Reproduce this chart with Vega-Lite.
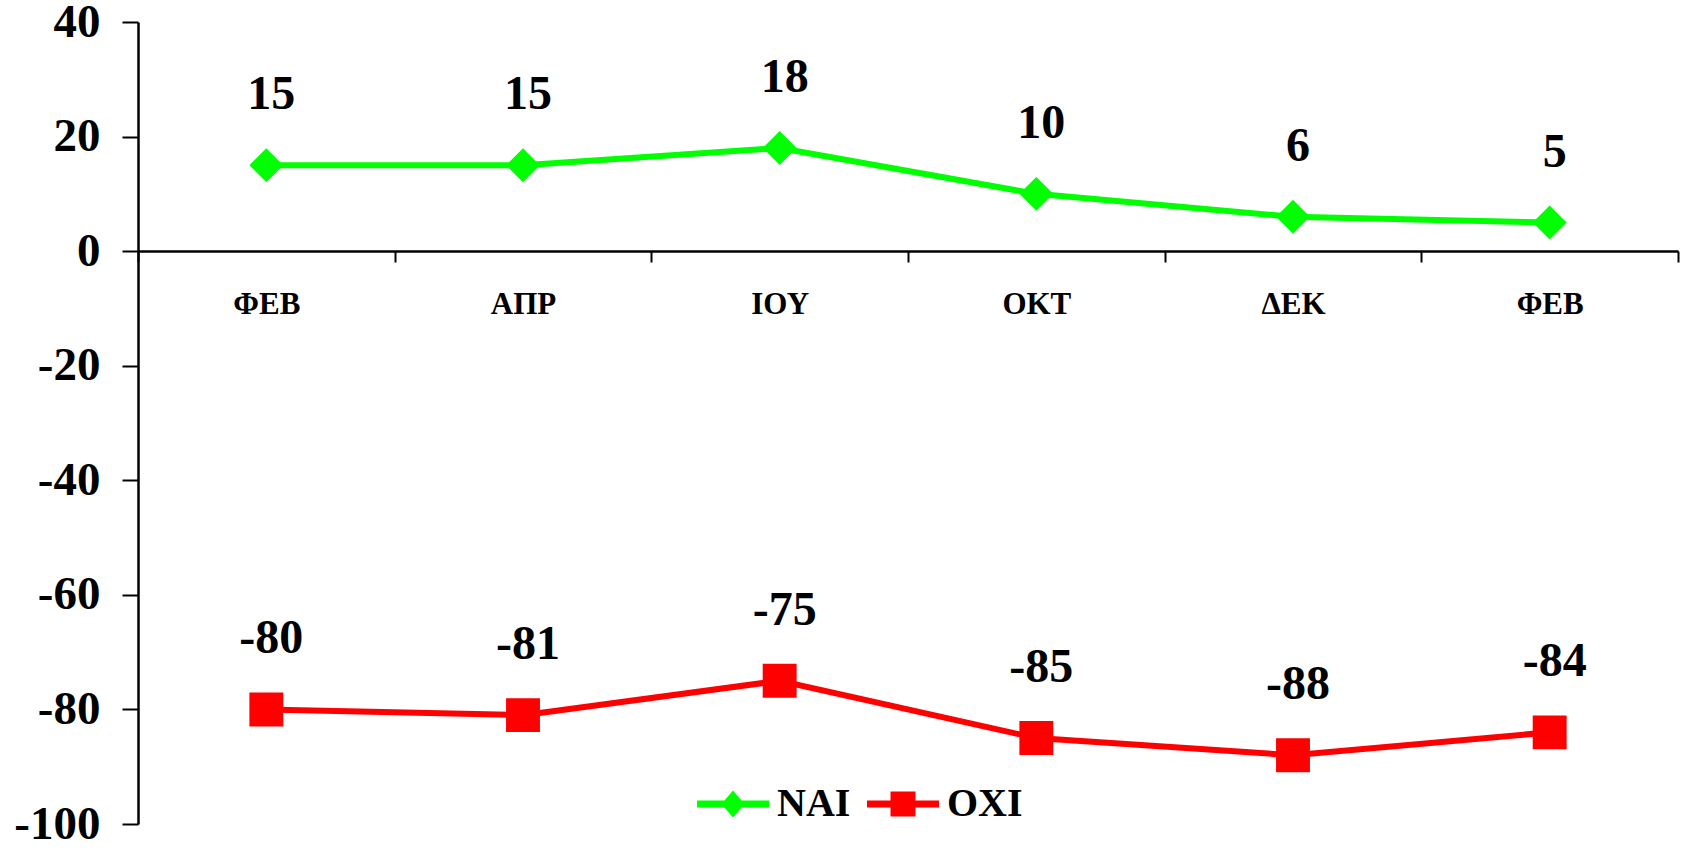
{
  "$schema": "https://vega.github.io/schema/vega-lite/v6.json",
  "width": 1540,
  "height": 802,
  "autosize": {"type": "none"},
  "padding": {"left": 138, "top": 22, "right": 12, "bottom": 26},
  "background": "white",
  "config": {"view": {"stroke": null}, "font": "Liberation Serif"},
  "data": {
    "values": [
      {"period": "ΦΕΒ_1", "series": "ΝΑΙ", "value": 15},
      {"period": "ΑΠΡ", "series": "ΝΑΙ", "value": 15},
      {"period": "ΙΟΥ", "series": "ΝΑΙ", "value": 18},
      {"period": "ΟΚΤ", "series": "ΝΑΙ", "value": 10},
      {"period": "ΔΕΚ", "series": "ΝΑΙ", "value": 6},
      {"period": "ΦΕΒ_2", "series": "ΝΑΙ", "value": 5},
      {"period": "ΦΕΒ_1", "series": "ΟΧΙ", "value": -80},
      {"period": "ΑΠΡ", "series": "ΟΧΙ", "value": -81},
      {"period": "ΙΟΥ", "series": "ΟΧΙ", "value": -75},
      {"period": "ΟΚΤ", "series": "ΟΧΙ", "value": -85},
      {"period": "ΔΕΚ", "series": "ΟΧΙ", "value": -88},
      {"period": "ΦΕΒ_2", "series": "ΟΧΙ", "value": -84}
    ]
  },
  "encoding": {
    "x": {
      "field": "period",
      "type": "nominal",
      "sort": ["ΦΕΒ_1", "ΑΠΡ", "ΙΟΥ", "ΟΚΤ", "ΔΕΚ", "ΦΕΒ_2"],
      "scale": {"type": "band", "paddingInner": 0, "paddingOuter": 0},
      "axis": {
        "title": null,
        "offset": -573,
        "labelExpr": "split(datum.label, '_')[0]",
        "labelAngle": 0,
        "labelFont": "Liberation Serif",
        "labelFontSize": 31,
        "labelFontWeight": "bold",
        "labelColor": "black",
        "labelPadding": 27,
        "tickBand": "extent",
        "tickSize": 11,
        "tickWidth": 2,
        "tickColor": "black",
        "domainColor": "black",
        "domainWidth": 2.5,
        "grid": false
      }
    },
    "y": {
      "field": "value",
      "type": "quantitative",
      "scale": {"domain": [-100, 40], "nice": false, "zero": false},
      "axis": {
        "title": null,
        "values": [-100, -80, -60, -40, -20, 0, 20, 40],
        "labelExpr": "'' + datum.value",
        "labelFont": "Liberation Serif",
        "labelFontSize": 47,
        "labelFontWeight": "bold",
        "labelColor": "black",
        "labelPadding": 22,
        "tickSize": 16,
        "tickWidth": 2,
        "tickColor": "black",
        "domainColor": "black",
        "domainWidth": 2.5,
        "grid": false
      }
    }
  },
  "layer": [
    {
      "mark": {"type": "line", "strokeWidth": 6},
      "encoding": {
        "color": {
          "field": "series",
          "type": "nominal",
          "scale": {"domain": ["ΝΑΙ", "ΟΧΙ"], "range": ["#00ff00", "#ff0000"]},
          "legend": null
        }
      }
    },
    {
      "mark": {"type": "point", "filled": true, "opacity": 1, "size": 1150},
      "encoding": {
        "color": {
          "field": "series",
          "type": "nominal",
          "scale": {"domain": ["ΝΑΙ", "ΟΧΙ"], "range": ["#00ff00", "#ff0000"]},
          "legend": null
        },
        "shape": {
          "field": "series",
          "type": "nominal",
          "scale": {"domain": ["ΝΑΙ", "ΟΧΙ"], "range": ["diamond", "square"]},
          "legend": null
        }
      }
    },
    {
      "mark": {
        "type": "text",
        "font": "Liberation Serif",
        "fontSize": 48,
        "fontWeight": "bold",
        "baseline": "middle",
        "dy": -70,
        "dx": 5,
        "color": "black"
      },
      "encoding": {
        "text": {"field": "value", "type": "nominal"}
      }
    },
    {
      "transform": [{"filter": "false"}],
      "mark": {"type": "point", "filled": true, "opacity": 1},
      "encoding": {
        "color": {
          "field": "series",
          "type": "nominal",
          "scale": {"domain": ["ΝΑΙ", "ΟΧΙ"], "range": ["#00ff00", "#ff0000"]},
          "legend": {
            "title": null,
            "orient": "none",
            "direction": "horizontal",
            "legendX": 559,
            "legendY": 746,
            "padding": 0,
            "symbolSize": 5184,
            "symbolStrokeWidth": 0,
            "labelFont": "Liberation Serif",
            "labelFontSize": 40,
            "labelFontWeight": "bold",
            "labelColor": "black",
            "labelOffset": 8,
            "columnPadding": 16
          }
        },
        "shape": {
          "field": "series",
          "type": "nominal",
          "scale": {
            "domain": ["ΝΑΙ", "ΟΧΙ"],
            "range": [
              "M-1,-0.094L-0.24,-0.094L0,-0.375L0.24,-0.094L1,-0.094L1,0.094L0.24,0.094L0,0.375L-0.24,0.094L-1,0.094Z",
              "M-1,-0.094L-0.347,-0.094L-0.347,-0.347L0.347,-0.347L0.347,-0.094L1,-0.094L1,0.094L0.347,0.094L0.347,0.347L-0.347,0.347L-0.347,0.094L-1,0.094Z"
            ]
          },
          "legend": {
            "title": null,
            "orient": "none",
            "direction": "horizontal",
            "legendX": 559,
            "legendY": 746,
            "padding": 0,
            "symbolSize": 5184,
            "symbolStrokeWidth": 0,
            "labelFont": "Liberation Serif",
            "labelFontSize": 40,
            "labelFontWeight": "bold",
            "labelColor": "black",
            "labelOffset": 8,
            "columnPadding": 16
          }
        }
      }
    }
  ],
  "resolve": {"scale": {"color": "independent", "shape": "independent"}}
}
